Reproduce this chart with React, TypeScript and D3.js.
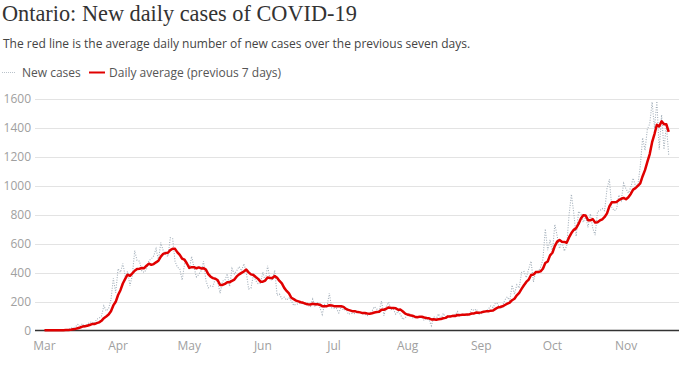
import React, { useEffect, useRef } from "react";
import * as d3 from "d3";

// daily reported new cases, Mar 1 -> Nov 19 2020
const newCases = [
  4, 0, 2, 1, 2, 5, 2, 3, 2, 4, 5, 17, 20, 24, 42, 32, 47, 25, 44, 55, 60, 48, 78, 85, 100, 170, 135, 151, 211, 360, 260,
  426, 401, 462, 375, 408, 309, 379, 550, 483, 478, 411, 401, 424, 483, 494, 514, 564, 485, 606, 551, 525, 510, 640, 634, 476, 437, 424, 347, 459, 460,
  421, 511, 434, 370, 387, 412, 477, 346, 294, 308, 304, 361, 329, 258, 341, 346, 391, 304, 427, 390, 413, 441, 412, 460, 404, 287, 292, 383, 344, 323, 326,
  404, 338, 446, 356, 344, 415, 243, 251, 219, 230, 210, 225, 205, 173, 181, 184, 190, 182, 178, 176, 161, 216, 163, 189, 160, 111, 178, 160, 257, 157,
  153, 153, 121, 165, 138, 154, 112, 118, 118, 116, 130, 129, 116, 111, 102, 111, 135, 164, 148, 135, 203, 103, 165, 195, 144, 147, 112, 134, 109, 76, 89,
  104, 113, 88, 86, 91, 95, 88, 70, 83, 73, 33, 95, 78, 115, 79, 118, 90, 102, 100, 103, 108, 131, 105, 115, 104, 102, 113, 148, 137, 148, 112,
  114, 133, 132, 148, 169, 158, 190, 185, 149, 170, 213, 232, 204, 313, 251, 315, 293, 401, 407, 365, 425, 478, 335, 409, 409, 435, 491, 700, 554, 625,
  538, 732, 653, 566, 615, 548, 583, 797, 939, 809, 649, 821, 807, 746, 783, 712, 805, 704, 658, 821, 827, 841, 826, 978, 1042, 851, 827, 834, 934, 896, 1015,
  977, 948, 987, 1050, 998, 1003, 1132, 1328, 1242, 1388, 1426, 1575, 1396, 1581, 1248, 1487, 1249, 1417, 1210,
];

// red line: daily average over previous 7 days, same dates
const dailyAverage = [
  1, 1, 1, 1, 2, 2, 2, 2, 2, 3, 3, 5, 8, 11, 16, 21, 27, 30, 33, 38, 44, 44, 51, 56, 67, 85, 97, 110, 133, 173, 198,
  245, 278, 324, 356, 385, 377, 394, 412, 424, 426, 431, 430, 447, 461, 453, 458, 470, 481, 510, 528, 534, 536, 554, 564, 563, 539, 521, 495, 488, 462,
  432, 437, 437, 429, 435, 428, 430, 420, 389, 371, 361, 357, 346, 314, 314, 321, 333, 333, 342, 351, 373, 387, 397, 407, 421, 401, 387, 383, 369, 356, 337,
  337, 344, 366, 362, 362, 376, 364, 342, 325, 294, 273, 256, 226, 216, 206, 201, 195, 191, 185, 181, 179, 184, 181, 181, 178, 168, 168, 168, 174, 173,
  168, 167, 168, 167, 163, 149, 142, 137, 132, 132, 127, 125, 120, 120, 117, 116, 119, 124, 127, 129, 143, 143, 150, 159, 156, 156, 153, 143, 144, 131, 116,
  110, 105, 102, 95, 92, 95, 95, 90, 86, 84, 76, 77, 74, 78, 79, 84, 87, 97, 97, 101, 100, 107, 106, 109, 109, 110, 111, 117, 118, 124, 123,
  125, 129, 132, 132, 137, 138, 149, 159, 162, 167, 176, 185, 192, 209, 219, 243, 260, 287, 312, 335, 351, 383, 386, 403, 404, 408, 426, 465, 476, 518,
  536, 582, 613, 624, 612, 611, 605, 642, 672, 694, 706, 735, 772, 795, 793, 761, 760, 768, 745, 747, 759, 767, 783, 808, 856, 884, 885, 886, 899, 909, 914,
  905, 919, 942, 972, 982, 997, 1014, 1064, 1106, 1163, 1217, 1299, 1355, 1419, 1408, 1443, 1423, 1422, 1370,
];

const yTicks = [0, 200, 400, 600, 800, 1000, 1200, 1400, 1600];
const monthTicks = ["2020-03-01", "2020-04-01", "2020-05-01", "2020-06-01", "2020-07-01", "2020-08-01", "2020-09-01", "2020-10-01", "2020-11-01"];

const W = 684;
const H = 370;

export default function App() {
  const ref = useRef<SVGSVGElement>(null);

  useEffect(() => {
    const svg = d3.select(ref.current);
    svg.selectAll("*").remove();

    const start = new Date(2020, 2, 1);
    const dates = newCases.map((_, i) => d3.timeDay.offset(start, i));

    const x = d3.scaleTime().domain([start, new Date(2020, 10, 1)]).range([44.5, 626]);
    const y = d3.scaleLinear().domain([0, 1600]).range([330.5, 98.5]);
    const left = 35;
    const right = 679;

    // title + subtitle
    svg.append("text")
      .attr("x", 2).attr("y", 21)
      .attr("font-family", "'Liberation Serif', serif")
      .attr("font-size", 22.3)
      .attr("fill", "#333")
      .text("Ontario: New daily cases of COVID-19");
    svg.append("text")
      .attr("x", 3).attr("y", 48)
      .attr("font-family", "'Open Sans', sans-serif")
      .attr("font-size", 12)
      .attr("fill", "#444")
      .text("The red line is the average daily number of new cases over the previous seven days.");

    // legend
    const lg = svg.append("g").attr("font-family", "'Open Sans', sans-serif").attr("font-size", 12).attr("fill", "#555");
    lg.append("line").attr("x1", 2).attr("x2", 16).attr("y1", 72.5).attr("y2", 72.5)
      .attr("stroke", "#b9c2ca").attr("stroke-width", 1).attr("stroke-dasharray", "1 1");
    lg.append("text").attr("x", 22).attr("y", 77).text("New cases");
    lg.append("line").attr("x1", 89).attr("x2", 105).attr("y1", 72.5).attr("y2", 72.5)
      .attr("stroke", "#e00000").attr("stroke-width", 2);
    lg.append("text").attr("x", 109).attr("y", 77).text("Daily average (previous 7 days)");

    // gridlines + y labels
    const grid = svg.append("g");
    grid.selectAll("line").data(yTicks.filter((t) => t > 0)).join("line")
      .attr("x1", left).attr("x2", right)
      .attr("y1", (d) => Math.round(y(d)) + 0.5).attr("y2", (d) => Math.round(y(d)) + 0.5)
      .attr("stroke", "#e3e3e3");
    grid.selectAll("text").data(yTicks).join("text")
      .attr("x", 31).attr("y", (d) => y(d) + 4)
      .attr("text-anchor", "end")
      .attr("font-family", "'Open Sans', sans-serif")
      .attr("font-size", 12)
      .attr("fill", "#a0a0a0")
      .text((d) => d);

    // x labels
    svg.append("g").selectAll("text").data(monthTicks).join("text")
      .attr("x", (d) => x(new Date(d + "T00:00:00")))
      .attr("y", 350)
      .attr("text-anchor", "middle")
      .attr("font-family", "'Open Sans', sans-serif")
      .attr("font-size", 12)
      .attr("fill", "#a0a0a0")
      .text((d) => d3.timeFormat("%b")(new Date(d + "T00:00:00")));

    // dotted daily cases
    const caseLine = d3.line<number>().x((_, i) => x(dates[i])).y((d) => y(d));
    svg.append("path").datum(newCases)
      .attr("d", caseLine)
      .attr("fill", "none")
      .attr("stroke", "#a2aeb9")
      .attr("stroke-width", 1.1)
      .attr("stroke-dasharray", "1 1.5");

    // baseline
    svg.append("line").attr("x1", left).attr("x2", right)
      .attr("y1", 330.5).attr("y2", 330.5)
      .attr("stroke", "#333").attr("stroke-width", 1.5);

    // 7-day average
    svg.append("path").datum(dailyAverage)
      .attr("d", caseLine)
      .attr("fill", "none")
      .attr("stroke", "#e00000")
      .attr("stroke-width", 2.5)
      .attr("stroke-linejoin", "round");
  }, []);

  return (
    <svg ref={ref} width={W} height={H} style={{ position: "absolute", left: 0, top: 0, background: "#fff" }} />
  );
}
